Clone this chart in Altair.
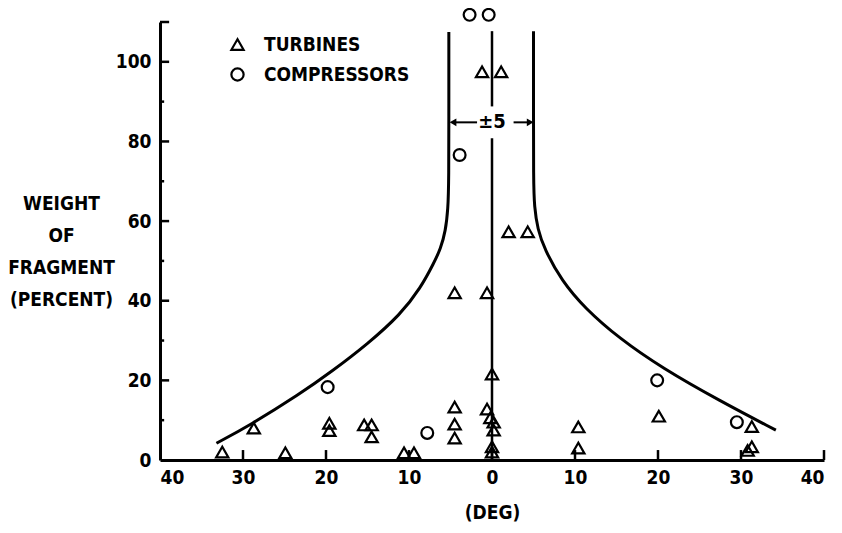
import altair as alt
import pandas as pd

# ---------------- data ----------------
turbine_x = [-1.2, 1.1, 2.0, 4.3, -4.5, -0.6, 0.0, -4.5, -4.5, -4.5, -0.6, -0.2, 0.2, 0.2, 0.0, 0.0,
             10.4, 10.4, 20.1, 31.3, 31.3, 30.8,
             -28.7, -19.6, -19.6, -15.4, -14.5, -14.5, -24.9, -10.6, -9.4, -32.5]
turbine_y = [97.5, 97.5, 57.3, 57.3, 42.0, 42.0, 21.6, 13.3, 9.0, 5.5, 12.8, 10.6, 9.5, 7.5, 3.3, 2.0,
             8.3, 3.0, 11.0, 8.4, 3.3, 2.4,
             8.0, 9.2, 7.4, 8.8, 8.8, 5.8, 1.8, 1.8, 1.8, 2.0]

compressor_x = [-2.7, -0.4, -3.9, -19.8, -7.8, 19.9, 29.5]
compressor_y = [111.8, 111.8, 76.6, 18.3, 6.8, 20.0, 9.5]

left_curve_x = [-5.2, -5.2, -5.2, -5.3, -5.6, -6.2, -7.0, -8.6, -11.0, -15.0, -19.2, -23.2, -29.2, -33.2]
left_curve_y = [107.5, 90.0, 70.0, 63.0, 57.5, 53.0, 49.5, 43.2, 36.6, 29.1, 22.4, 16.5, 8.7, 4.2]
right_curve_x = [5.0, 5.0, 5.0, 5.1, 5.5, 6.3, 8.4, 11.2, 15.3, 20.5, 27.4, 34.2]
right_curve_y = [107.7, 90.0, 70.0, 63.5, 58.0, 53.0, 45.0, 38.1, 30.6, 23.1, 14.9, 7.5]

# centre line (x = 0) drawn in two pieces around the "±5" label
centre_y_from = [0.0, 88.8]
centre_y_to = [80.8, 107.7]
label_pm5 = "±5"
label_pm5_y = 84.8
arrow_left = [-1.8, -4.7]     # from, tip
arrow_right = [2.6, 4.6]      # from, tip

x_tick_values = [-40, -30, -20, -10, 0, 10, 20, 30, 40]
y_label_values = [0, 20, 40, 60, 80, 100]
y_major_ticks = [20, 40, 60, 80, 100, 110]
y_minor_ticks = [10, 30, 50, 70, 90]

series_names = ["TURBINES", "COMPRESSORS"]
y_title = ["WEIGHT", "OF", "FRAGMENT", "(PERCENT)"]
x_title = "(DEG)"

# ---------------- build ----------------
FONT = "DejaVu Sans Condensed"
FS = 19
FW = "bold"
W, H = 664, 438

xs = alt.Scale(domain=[-40, 40], nice=False, zero=False)
ys = alt.Scale(domain=[0, 110], nice=False, zero=False)

pts = pd.DataFrame({
    "x": turbine_x + compressor_x,
    "y": turbine_y + compressor_y,
    "type": [series_names[0]] * len(turbine_x) + [series_names[1]] * len(compressor_x),
})

points = alt.Chart(pts).mark_point(filled=False, strokeWidth=2.2, color="black", opacity=1, clip=False).encode(
    x=alt.X("x:Q", scale=xs, axis=alt.Axis(
        values=x_tick_values, labelExpr="abs(datum.value)", ticks=False, grid=False,
        domainColor="black", domainWidth=3, labelFont=FONT, labelFontSize=FS, labelColor="black",
        labelPadding=8, labelFontWeight=FW, title=x_title, titleFont=FONT, titleFontSize=FS,
        titleFontWeight=FW, titleColor="black", titleBaseline="alphabetic", titleY=58)),
    y=alt.Y("y:Q", scale=ys, axis=alt.Axis(
        values=y_label_values, ticks=False, grid=False, domainColor="black", domainWidth=3,
        labelFont=FONT, labelFontSize=FS, labelColor="black", labelPadding=9, labelFontWeight=FW,
        title=y_title, titleAngle=0, titleAlign="center", titleBaseline="alphabetic",
        titleX=-99, titleY=187, titleLineHeight=32, titleFont=FONT, titleFontSize=FS,
        titleFontWeight=FW, titleColor="black")),
    shape=alt.Shape("type:N", scale=alt.Scale(domain=series_names, range=["triangle-up", "circle"]),
                    legend=alt.Legend(orient="none", legendX=68, legendY=13, title=None, padding=0,
                                      labelFont=FONT, labelFontSize=FS, labelFontWeight=FW,
                                      labelColor="black", labelOffset=17, rowPadding=8,
                                      symbolSize=150, symbolStrokeWidth=2.2,
                                      symbolStrokeColor="black", symbolFillColor="white")),
    size=alt.Size("type:N", scale=alt.Scale(domain=series_names, range=[150, 140]), legend=None),
)

curve_df = pd.DataFrame({
    "x": left_curve_x + right_curve_x,
    "y": left_curve_y + right_curve_y,
    "side": ["L"] * len(left_curve_x) + ["R"] * len(right_curve_x),
    "order": list(range(len(left_curve_x))) + list(range(len(right_curve_x))),
})
curves = alt.Chart(curve_df).mark_line(color="black", strokeWidth=3, interpolate="basis").encode(
    x=alt.X("x:Q", scale=xs), y=alt.Y("y:Q", scale=ys), detail="side:N", order="order:Q")

centre_df = pd.DataFrame({"cx": [0, 0], "cy": centre_y_from, "cy2": centre_y_to})
centre = alt.Chart(centre_df).mark_rule(color="black", strokeWidth=2.5).encode(
    x=alt.X("cx:Q", scale=xs), y=alt.Y("cy:Q", scale=ys), y2="cy2:Q")

pm_df = pd.DataFrame({"px": [0], "py": [label_pm5_y], "t": [label_pm5]})
pm_text = alt.Chart(pm_df).mark_text(font=FONT, fontSize=FS + 1, fontWeight=FW, color="black",
                                     baseline="middle", align="center").encode(
    x=alt.X("px:Q", scale=xs), y=alt.Y("py:Q", scale=ys), text="t:N")

arr_df = pd.DataFrame({"ax": [arrow_left[0], arrow_right[0]], "ax2": [arrow_left[1], arrow_right[1]],
                       "ay": [label_pm5_y, label_pm5_y]})
arr_lines = alt.Chart(arr_df).mark_rule(color="black", strokeWidth=2).encode(
    x=alt.X("ax:Q", scale=xs), x2="ax2:Q", y=alt.Y("ay:Q", scale=ys))
head_df = pd.DataFrame({"hx": [arrow_left[1], arrow_right[1]], "hy": [label_pm5_y, label_pm5_y],
                        "dir": ["triangle-left", "triangle-right"]})
arr_heads = alt.Chart(head_df).mark_point(filled=True, color="black", opacity=1, size=60).encode(
    x=alt.X("hx:Q", scale=xs), y=alt.Y("hy:Q", scale=ys),
    shape=alt.Shape("dir:N", scale=None, legend=None))

# inward tick marks
xt_vals = [v for v in x_tick_values if v > -40]
xt_df = pd.DataFrame({"tx": xt_vals, "ty0": [0.0] * len(xt_vals), "ty1": [2.5] * len(xt_vals)})
xticks = alt.Chart(xt_df).mark_rule(color="black", strokeWidth=2.5).encode(
    x=alt.X("tx:Q", scale=xs), y=alt.Y("ty0:Q", scale=ys), y2="ty1:Q")
yt_vals = y_major_ticks + y_minor_ticks
yt_df = pd.DataFrame({"sy": yt_vals, "sx0": [-40.0] * len(yt_vals),
                      "sx1": [-38.9] * len(y_major_ticks) + [-39.5] * len(y_minor_ticks)})
yticks = alt.Chart(yt_df).mark_rule(color="black", strokeWidth=2.5).encode(
    y=alt.Y("sy:Q", scale=ys), x=alt.X("sx0:Q", scale=xs), x2="sx1:Q")

chart = alt.layer(curves, centre, arr_lines, arr_heads, pm_text, xticks, yticks, points).properties(
    width=W, height=H,
    autosize=alt.AutoSizeParams(type="none"),
    padding={"left": 152, "top": 14, "right": 10, "bottom": 62},
    background="white",
).configure_view(stroke=None).resolve_scale(shape="independent")

chart.save("out.html", embed_options={"renderer": "svg", "actions": False})
